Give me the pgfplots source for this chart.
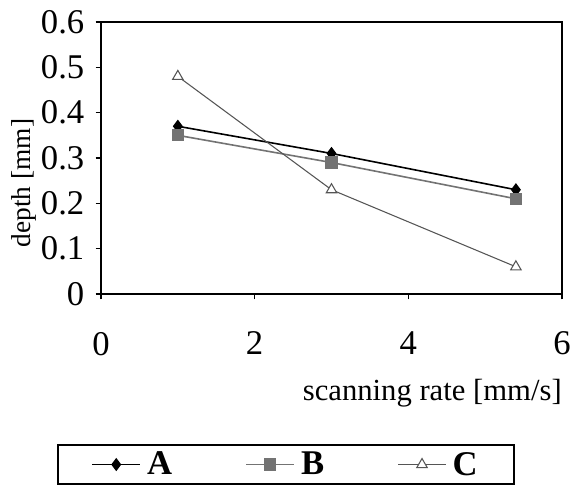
\documentclass[border=0pt]{standalone}
\usepackage{fontspec}
\setmainfont{Liberation Serif}
\usepackage{pgfplots}
\pgfplotsset{compat=1.18}
\definecolor{bgray}{RGB}{115,115,115}
\definecolor{cgray}{RGB}{85,85,85}
\begin{document}
\begin{tikzpicture}
\useasboundingbox (-75.75pt,-145.5pt) rectangle (356.25pt,220.5pt);
\begin{axis}[
  at={(0,0)}, anchor=south west,
  scale only axis, width=345.75pt, height=204pt,
  xmin=0, xmax=6, ymin=0, ymax=0.6,
  xtick={0,2,4,6}, ytick={0,0.1,0.2,0.3,0.4,0.5,0.6},
  xtick pos=bottom, ytick pos=left,
  tick align=outside, major tick length=4pt,
  axis line style={line width=1.3pt},
  tick style={line width=0.8pt, black},
  /pgf/number format/assume math mode=true,
  yticklabel style={/pgf/number format/fixed, /pgf/number format/precision=1, font=\fontsize{26}{28}\selectfont, xshift=-5pt},
  xticklabel style={font=\fontsize{26}{28}\selectfont, yshift=-21pt},
  xlabel={scanning rate [mm/s]},
  ylabel={depth [mm]},
  xlabel style={at={(axis description cs:1.0,-0.365)}, anchor=east, font=\fontsize{23}{26}\selectfont, inner sep=0pt},
  ylabel style={at={(axis description cs:-0.168,0.408)}, anchor=center, font=\fontsize{20.5}{23}\selectfont, inner sep=0pt},
  legend columns=3,
  legend style={at={(axis description cs:0.401,-0.627)}, anchor=center, draw=black, line width=1.4pt,
    font=\fontsize{26}{28}\selectfont\bfseries, inner xsep=25pt, inner ysep=3pt,
    /tikz/every even column/.append style={column sep=53pt}},
  legend image code/.code={\draw[mark repeat=2,mark phase=2,#1] plot coordinates {(0pt,0pt) (18pt,0pt) (36pt,0pt)}; \path (38.5pt,0pt);},
]
\addplot[black, line width=1.2pt, mark=diamond*, mark size=4pt, mark options={solid, fill=black}] coordinates {(1,0.37) (3,0.31) (5.4,0.23)};
\addlegendentry{A}
\addplot[bgray, line width=1.2pt, mark=square*, mark size=4pt, mark options={solid, fill=bgray, draw=bgray}] coordinates {(1,0.35) (3,0.29) (5.4,0.21)};
\addlegendentry{B}
\addplot[cgray, line width=0.8pt, mark=triangle*, mark size=4.5pt, mark options={solid, fill=white, draw=cgray}] coordinates {(1,0.48) (3,0.23) (5.4,0.06)};
\addlegendentry{C}
\end{axis}
\end{tikzpicture}
\end{document}
